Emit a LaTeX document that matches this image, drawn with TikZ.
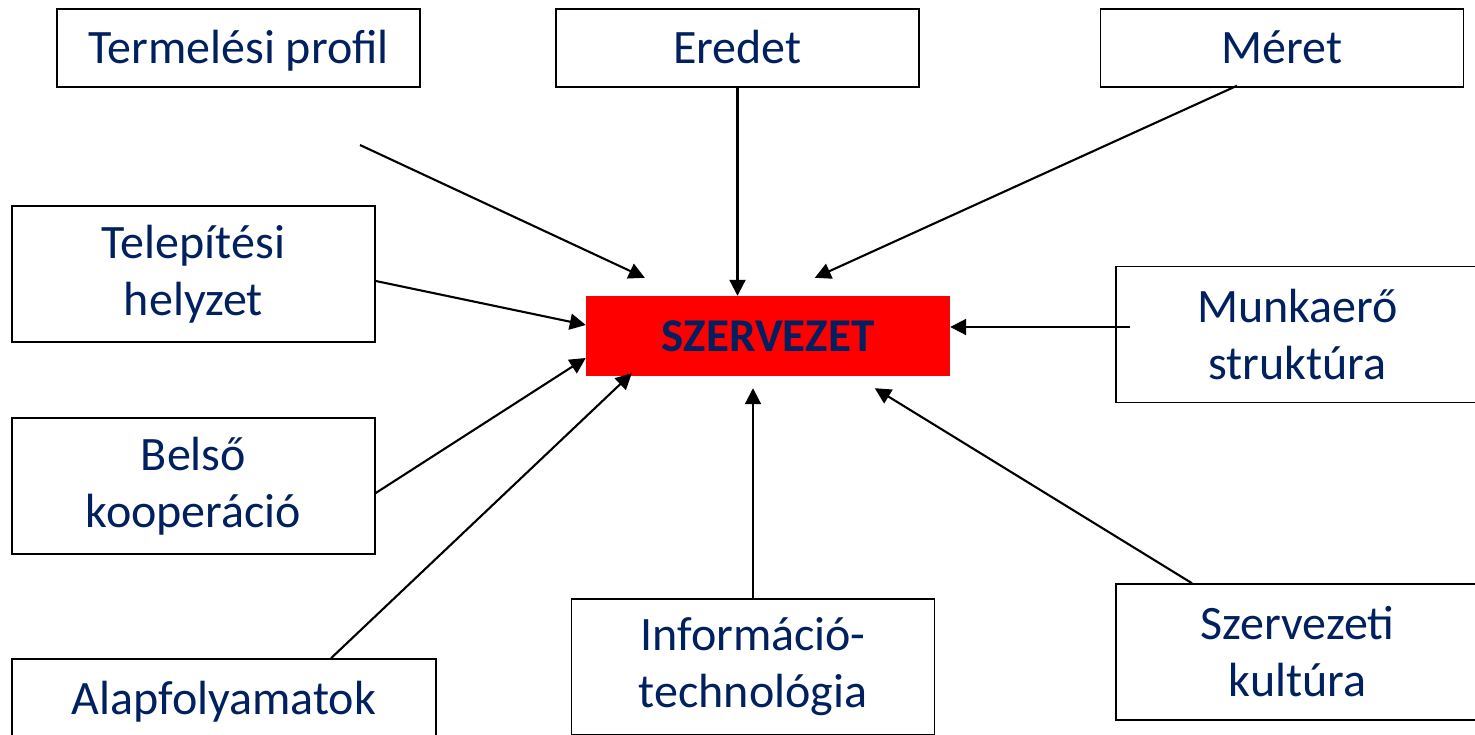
\documentclass[tikz,border=0pt]{standalone}
\usepackage{fontspec}
\setmainfont{Carlito}
\usetikzlibrary{arrows.meta,calc}
\definecolor{navy}{HTML}{002060}
\begin{document}
\begin{tikzpicture}[x=1pt,y=-1pt,
  box/.style={draw=black,line width=1.5pt,fill=white,text=navy,align=center,
    inner sep=0pt,minimum width=363pt,font=\fontsize{48}{57}\selectfont},
  onebox/.style={box,minimum height=78pt,text height=40pt,text depth=8pt},
  twobox/.style={box,minimum height=136pt},
  core/.style={fill=red,text=navy,inner sep=0pt,minimum width=364pt,minimum height=80pt,
    font=\fontsize{47}{55}\selectfont\bfseries},
  arr/.style={line width=2.1pt,-{Triangle[length=16pt,width=16pt]}}]
\useasboundingbox (0,0) rectangle (1475,735);
\clip (0,0) rectangle (1475,735);
\node[core] (szerv) at (768,336) {SZERVEZET};
\node[onebox] (termel) at (238.5,48) {Termelési profil};
\node[onebox] (eredet) at (737.5,48) {Eredet};
\node[onebox] (meret) at (1282,48) {Méret};
\node[twobox] (telep) at (193.5,274) {Telepítési\\helyzet};
\node[twobox] (munka) at (1297.5,334.5) {Munkaerő\\struktúra};
\node[twobox] (belso) at (193.5,486) {Belső\\kooperáció};
\node[onebox,minimum width=424pt] (alap) at (224,698) {Alapfolyamatok};
\node[twobox] (info) at (753,667) {Információ-\\technológia};
\node[twobox] (kult) at (1297.5,652) {Szervezeti\\kultúra};
\coordinate (tfree) at (360,145);
\draw[arr] (tfree) -- ([shift={(59,-18)}]szerv.north west);
\draw[arr] (eredet.south) -- (eredet.south |- szerv.north);
\draw[arr] ([shift={(-45,-2)}]meret.south) -- ([shift={(229,-18)}]szerv.north west);
\draw[arr] ([shift={(0,7)}]telep.east) -- ([shift={(0,-11)}]szerv.west);
\draw[arr] ([shift={(15,-7.5)}]munka.west) -- ([shift={(0,-9)}]szerv.east);
\draw[arr] ([shift={(0,7)}]belso.east) -- ([shift={(0,22)}]szerv.west);
\draw[arr] ([shift={(107,0)}]alap.north) -- ([shift={(46,-3)}]szerv.south west);
\draw[arr] (info.north) -- ([shift={(0,12)}]info.north |- szerv.south);
\draw[arr] ([shift={(-105.5,0)}]kult.north) -- ([shift={(289,12)}]szerv.south west);
\end{tikzpicture}
\end{document}
